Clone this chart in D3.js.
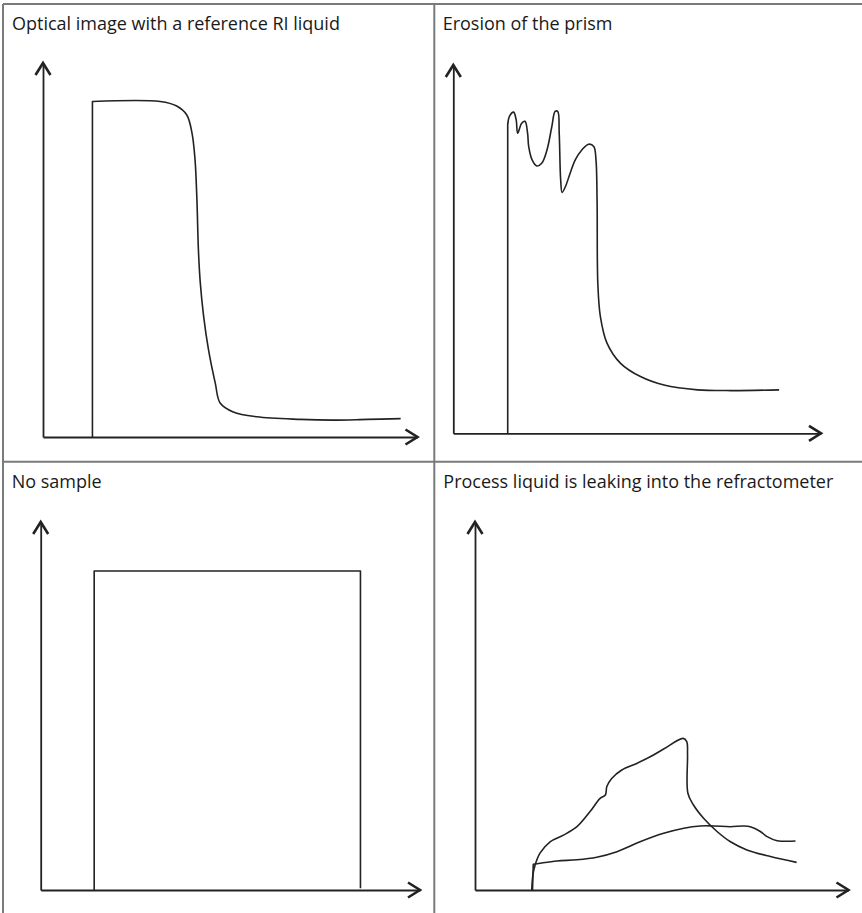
<!DOCTYPE html>
<html>
<head>
<meta charset="utf-8">
<script src="https://cdn.jsdelivr.net/npm/d3@7"></script>
<style>
  html, body { margin: 0; padding: 0; background: #fff; }
  svg { display: block; }
  .title { font-family: "Open Sans", "Noto Sans", sans-serif; font-size: 18px; fill: #1a1a1a; }
</style>
</head>
<body>
<svg id="chart" width="862" height="913"></svg>
<script>
// ---- Data (normalized units: 0..100 on both axes of each panel) ----
const panelTitles = [
  "Optical image with a reference RI liquid",
  "Erosion of the prism",
  "No sample",
  "Process liquid is leaking into the refractometer"
];

const referenceLiquidCurve = [
  [13.2, 0], [13.2, 89.7], [31.3, 89.7], [35.7, 88.5], [38.4, 86.1], [39.8, 81.2],
  [40.6, 74.1], [41.1, 63.4], [41.5, 50.0], [42.0, 41.2], [42.9, 32.2], [44.2, 23.3],
  [46.0, 14.4], [47.3, 9.1], [50.8, 6.7], [57.1, 5.4], [68.7, 4.7], [77.5, 4.5],
  [86.6, 4.7], [95.5, 4.9]
];

const prismErosionCurve = [
  [14.8, 0], [14.8, 83.8], [15.3, 86.1], [16.4, 87.2], [17.1, 85.1], [17.5, 81.5],
  [18.6, 84.2], [19.5, 84.7], [20.2, 81.5], [20.5, 77.9], [21.4, 74.3], [22.7, 72.6],
  [24.1, 73.4], [25.5, 77.0], [26.8, 83.3], [27.7, 87.4], [28.4, 87.4], [28.8, 81.5],
  [29.2, 68.8], [29.6, 65.4], [30.5, 67.0], [31.8, 70.7], [33.2, 74.3], [35.0, 77.0],
  [36.8, 78.5], [38.2, 77.9], [38.8, 74.3], [39.1, 63.4], [39.3, 40.8], [40.0, 31.7],
  [41.8, 24.5], [45.5, 19.0], [50.9, 15.4], [57.3, 13.1], [66.4, 11.8], [75.5, 11.6],
  [88.6, 11.8]
];

const noSampleCurve = [
  [14.1, 0], [14.1, 86.7], [84.3, 86.7], [84.3, 0.5]
];

const leakCurvePeak = [
  [15.2, 0], [15.5, 4.1], [16.1, 6.8], [17.4, 10.0], [20.1, 13.1], [23.7, 14.9],
  [27.3, 17.2], [30.8, 21.3], [33.5, 24.9], [34.9, 25.8], [35.3, 28.1], [36.6, 30.3],
  [39.3, 32.6], [43.3, 34.4], [46.9, 36.2], [50.5, 38.3], [55.7, 41.2], [56.7, 40.3],
  [56.9, 36.7], [57.0, 26.3], [58.5, 23.1], [61.2, 19.5], [64.8, 15.9], [68.4, 13.1],
  [72.8, 10.9], [79.1, 9.1], [86.1, 7.5]
];

const leakCurveFlat = [
  [15.4, 0], [15.6, 7.0], [17.0, 7.2], [21.9, 7.9], [27.3, 8.2], [32.6, 8.9],
  [38.0, 10.4], [44.2, 13.1], [50.5, 15.4], [55.9, 16.8], [60.3, 17.4], [63.9, 17.4],
  [68.4, 17.2], [71.9, 17.4], [73.7, 17.2], [76.4, 15.9], [78.2, 14.5], [80.9, 13.4],
  [85.8, 13.3]
];

// ---- Layout ----
const W = 862, H = 913;
const gridX = 434.3, gridY = 461.7, topY = 4, leftX = 3;
const smooth = d3.curveCatmullRom.alpha(0.5);

// straight: index of the last point of a leading straight (linear) segment
const panels = [
  { title: panelTitles[0], tx: 12, ty: 30, x0: 43, x1: 417.5, y0: 437, y1: 63,
    series: [{ data: referenceLiquidCurve, straight: 1, curve: smooth }] },
  { title: panelTitles[1], tx: 442.7, ty: 29.5, x0: 453.3, x1: 821, y0: 433.3, y1: 65,
    series: [{ data: prismErosionCurve, straight: 1, curve: smooth }] },
  { title: panelTitles[2], tx: 11.7, ty: 487.5, x0: 40.7, x1: 420, y0: 890, y1: 522,
    series: [{ data: noSampleCurve, straight: 0, curve: d3.curveLinear }] },
  { title: panelTitles[3], tx: 443.3, ty: 487.5, x0: 475, x1: 848.5, y0: 890, y1: 522,
    series: [{ data: leakCurvePeak, straight: 0, curve: smooth },
             { data: leakCurveFlat, straight: 1, curve: smooth }] }
];

const svg = d3.select("#chart");

// Grid / frame lines
const gridColor = "#7a7a7a";
const frame = svg.append("g").attr("stroke", gridColor).attr("stroke-width", 2);
frame.append("line").attr("x1", leftX).attr("x2", W).attr("y1", topY).attr("y2", topY);
frame.append("line").attr("x1", leftX).attr("x2", W).attr("y1", gridY).attr("y2", gridY);
frame.append("line").attr("x1", leftX).attr("x2", leftX).attr("y1", topY).attr("y2", H);
frame.append("line").attr("x1", gridX).attr("x2", gridX).attr("y1", topY).attr("y2", H);

panels.forEach(p => {
  const g = svg.append("g");
  const x = d3.scaleLinear().domain([0, 100]).range([p.x0, p.x1]);
  const y = d3.scaleLinear().domain([0, 100]).range([p.y0, p.y1]);

  g.append("text").attr("class", "title").attr("x", p.tx).attr("y", p.ty).text(p.title);

  // Axes (no ticks) via d3 axis generators
  const xAxis = g.append("g").attr("transform", `translate(0,${y(0)})`)
    .call(d3.axisBottom(x).ticks(0).tickSizeOuter(0));
  const yAxis = g.append("g").attr("transform", `translate(${x(0)},0)`)
    .call(d3.axisLeft(y).ticks(0).tickSizeOuter(0));
  [xAxis, yAxis].forEach(a => {
    a.select(".domain").attr("stroke", "#222").attr("stroke-width", 1.8);
    a.selectAll("text").remove();
  });

  // Arrowheads (chevrons) at axis ends
  const ah = 12, aw = 7.5;
  g.append("path")
    .attr("d", `M${x(100) - ah},${y(0) - aw}L${x(100)},${y(0)}L${x(100) - ah},${y(0) + aw}`)
    .attr("fill", "none").attr("stroke", "#222").attr("stroke-width", 2.6)
    .attr("stroke-linejoin", "miter");
  g.append("path")
    .attr("d", `M${x(0) - aw},${y(100) + ah}L${x(0)},${y(100)}L${x(0) + aw},${y(100) + ah}`)
    .attr("fill", "none").attr("stroke", "#222").attr("stroke-width", 2.6)
    .attr("stroke-linejoin", "miter");

  p.series.forEach(s => {
    const straightPart = s.data.slice(0, s.straight + 1);
    const curvedPart = s.data.slice(s.straight);
    const linLine = d3.line().x(d => x(d[0])).y(d => y(d[1])).curve(d3.curveLinear);
    const curLine = d3.line().x(d => x(d[0])).y(d => y(d[1])).curve(s.curve);
    const dStr = (straightPart.length > 1 ? linLine(straightPart) : "") +
                 (curvedPart.length > 1 ? curLine(curvedPart).replace(/^M/, straightPart.length > 1 ? "L" : "M") : "");
    g.append("path")
      .attr("d", dStr)
      .attr("fill", "none").attr("stroke", "#222").attr("stroke-width", 1.6)
      .attr("stroke-linejoin", "round");
  });
});
</script>
</body>
</html>
